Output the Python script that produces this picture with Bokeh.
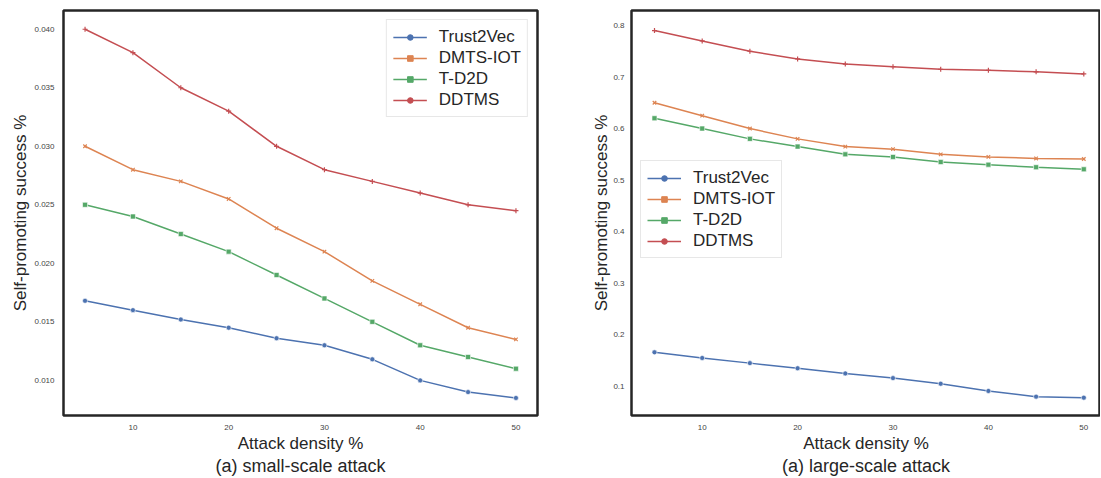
from bokeh.plotting import figure
from bokeh.layouts import row
from bokeh.models import (Range1d, FixedTicker, Legend, LegendItem, NumeralTickFormatter,
                          LinearAxis)
from bokeh.embed import file_html
from bokeh.resources import INLINE

# ---------------- data ----------------
density = [5, 10, 15, 20, 25, 30, 35, 40, 45, 50]
x_ticks = [10, 20, 30, 40, 50]
series_names = ["Trust2Vec", "DMTS-IOT", "T-D2D", "DDTMS"]

small_trust2vec = [0.0168, 0.0160, 0.0152, 0.0145, 0.0136, 0.0130, 0.0118, 0.0100, 0.0090, 0.0085]
small_dmts_iot = [0.0300, 0.0280, 0.0270, 0.0255, 0.0230, 0.0210, 0.0185, 0.0165, 0.0145, 0.0135]
small_t_d2d = [0.0250, 0.0240, 0.0225, 0.0210, 0.0190, 0.0170, 0.0150, 0.0130, 0.0120, 0.0110]
small_ddtms = [0.0400, 0.0380, 0.0350, 0.0330, 0.0300, 0.0280, 0.0270, 0.0260, 0.0250, 0.0245]
small_y_ticks = [0.010, 0.015, 0.020, 0.025, 0.030, 0.035, 0.040]

large_trust2vec = [0.166, 0.155, 0.145, 0.135, 0.125, 0.116, 0.105, 0.091, 0.080, 0.078]
large_dmts_iot = [0.650, 0.625, 0.600, 0.580, 0.565, 0.560, 0.550, 0.545, 0.542, 0.541]
large_t_d2d = [0.620, 0.600, 0.580, 0.565, 0.550, 0.545, 0.535, 0.530, 0.525, 0.521]
large_ddtms = [0.790, 0.770, 0.750, 0.735, 0.725, 0.720, 0.715, 0.713, 0.710, 0.706]
large_y_ticks = [0.1, 0.2, 0.3, 0.4, 0.5, 0.6, 0.7, 0.8]

COLORS = ["#4C72B0", "#DD8452", "#55A868", "#C44E52"]
PLOT_MARKERS = ["circle", "x", "square", "cross"]
LEGEND_MARKERS = ["circle", "square", "square", "circle"]
FONT = "Liberation Sans"


def make_fig(width, min_left, min_right, x_rng, y_rng, y_ticks, fmt, series, title,
             legend_loc, y_tick_standoff, y_label_standoff):
    p = figure(width=width, height=478, x_range=Range1d(*x_rng), y_range=Range1d(*y_rng),
               output_backend="svg", toolbar_location=None,
               min_border_left=min_left, min_border_right=min_right,
               min_border_top=10, min_border_bottom=61)
    # a range that keeps legend-only marker renderers off the visible frame
    p.extra_x_ranges = {"legend_only": Range1d(1000, 1001)}
    p.xgrid.visible = False
    p.ygrid.visible = False
    p.background_fill_color = "white"
    p.border_fill_color = "white"
    p.outline_line_color = "#262626"
    p.outline_line_width = 2.5

    for ax in (p.xaxis[0], p.yaxis[0]):
        ax.axis_line_color = None
        ax.major_tick_line_color = None
        ax.minor_tick_line_color = None
        ax.major_tick_out = 0
        ax.major_tick_in = 0
        ax.major_label_text_font = FONT
        ax.major_label_text_font_size = "8px"
        ax.major_label_text_color = "#444444"
        ax.axis_label_text_font = FONT
        ax.axis_label_text_font_size = "17px"
        ax.axis_label_text_font_style = "normal"
        ax.axis_label_text_color = "#262626"

    p.xaxis.ticker = FixedTicker(ticks=x_ticks)
    p.yaxis.ticker = FixedTicker(ticks=y_ticks)
    p.yaxis.formatter = NumeralTickFormatter(format=fmt)
    p.xaxis.axis_label = "Attack density %"
    p.yaxis.axis_label = "Self-promoting success %"
    p.xaxis.major_label_standoff = 9
    p.yaxis.major_label_standoff = y_tick_standoff
    p.xaxis.axis_label_standoff = 1
    p.yaxis.axis_label_standoff = y_label_standoff

    # caption below the x axis, as a tick-less second axis
    cap = LinearAxis(ticker=FixedTicker(ticks=[]), axis_label=title,
                     axis_line_color=None, major_tick_line_color=None,
                     minor_tick_line_color=None, major_tick_out=0, major_tick_in=0,
                     major_label_standoff=0, axis_label_standoff=0,
                     major_label_text_font_size="0px",
                     axis_label_text_font=FONT, axis_label_text_font_size="18px",
                     axis_label_text_font_style="normal", axis_label_text_color="#262626")
    p.add_layout(cap, "below")

    items = []
    for name, ys, color, pm, lm in zip(series_names, series, COLORS, PLOT_MARKERS, LEGEND_MARKERS):
        ln = p.line(density, ys, line_color=color, line_width=1.5)
        if pm in ("x", "cross"):
            p.scatter(density, ys, marker=pm, size=5, line_color=color, line_width=1.2)
        else:
            p.scatter(density, ys, marker=pm, size=5, fill_color=color, line_color="white",
                      line_width=0.6)
        leg = p.scatter(density, ys, x_range_name="legend_only", marker=lm, size=6,
                        fill_color=color, line_color=color)
        items.append(LegendItem(label=name, renderers=[ln, leg]))

    legend = Legend(items=items, location=legend_loc, margin=9,
                    label_text_font=FONT, label_text_font_size="17px",
                    label_text_color="#262626",
                    glyph_width=34, glyph_height=14, label_height=21, label_standoff=12,
                    spacing=0, padding=6,
                    border_line_color="#d0d0d0", border_line_width=1,
                    background_fill_color="white", background_fill_alpha=0.85)
    p.add_layout(legend)
    return p


p1 = make_fig(575, 63, 38, (2.75, 52.25), (0.0070, 0.0416), small_y_ticks, "0.000",
              [small_trust2vec, small_dmts_iot, small_t_d2d, small_ddtms],
              "(a) small-scale attack", "top_right", 9, 1)
p2 = make_fig(525, 56, 0, (2.59, 51.75), (0.0434, 0.829), large_y_ticks, "0.0",
              [large_trust2vec, large_dmts_iot, large_t_d2d, large_ddtms],
              "(a) large-scale attack", (9, 157), 7, -1)

layout = row(p1, p2)
open("out.html", "w").write(file_html(layout, INLINE))
